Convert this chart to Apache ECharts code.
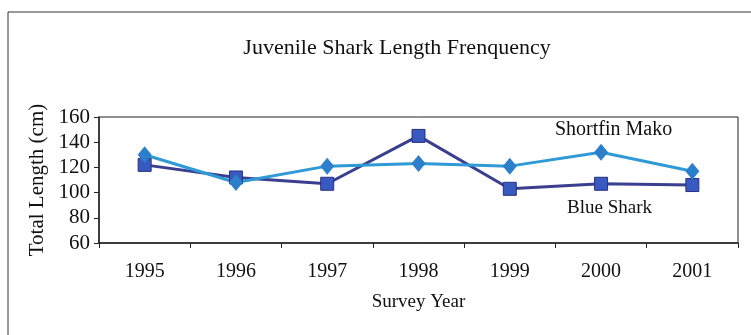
<!DOCTYPE html>
<html><head><meta charset="utf-8">
<script src="https://cdn.jsdelivr.net/npm/echarts@6/dist/echarts.min.js"></script>
<style>html,body{margin:0;padding:0;background:#fff}#c{width:751px;height:335px}</style>
</head><body><div id="c"></div>
<script>
const years = ['1995','1996','1997','1998','1999','2000','2001'];
const blueShark = [122, 112, 107, 145, 103, 107, 106];
const shortfinMako = [130, 108, 121, 123, 121, 132, 117];
const yTicks = [60, 80, 100, 120, 140, 160];

const chart = echarts.init(document.getElementById('c'));
const serif = '"Liberation Serif", "DejaVu Serif", serif';
chart.setOption({
  backgroundColor: '#fff',
  animation: false,
  title: {
    text: 'Juvenile Shark Length Frenquency',
    left: 392, top: 32, textAlign: 'center',
    textStyle: {fontFamily: serif, fontSize: 22, fontWeight: 'normal', color: '#111'}
  },
  grid: {left: 99, right: 13, top: 117, bottom: 92, show: true, borderColor: '#222', borderWidth: 1},
  xAxis: {
    type: 'category', data: years, boundaryGap: true,
    name: 'Survey Year', nameLocation: 'middle', nameGap: 50,
    nameTextStyle: {fontFamily: serif, fontSize: 19, color: '#111'},
    axisLine: {lineStyle: {color: '#222', width: 1.5}},
    axisTick: {show: true, length: 5, lineStyle: {color: '#222'}},
    axisLabel: {fontFamily: serif, fontSize: 20, color: '#111', margin: 19}
  },
  yAxis: {
    type: 'value', min: yTicks[0], max: yTicks[yTicks.length - 1], interval: 20,
    name: 'Total Length (cm)', nameLocation: 'middle', nameGap: 49, nameRotate: 90,
    nameTextStyle: {fontFamily: serif, fontSize: 21, color: '#111'},
    axisLine: {show: true, lineStyle: {color: '#222', width: 1.5}},
    axisTick: {show: true, length: 5, lineStyle: {color: '#222'}},
    splitLine: {show: false},
    axisLabel: {fontFamily: serif, fontSize: 21, color: '#111', margin: 9}
  },
  series: [
    {
      name: 'Blue Shark', type: 'line', data: blueShark,
      symbol: 'rect', symbolSize: 13,
      lineStyle: {color: '#3b3f8f', width: 3},
      itemStyle: {color: '#3759c0', borderColor: '#2a3080', borderWidth: 1}
    },
    {
      name: 'Shortfin Mako', type: 'line', data: shortfinMako,
      symbol: 'diamond', symbolSize: [14, 17],
      lineStyle: {color: '#2f9ad6', width: 3},
      itemStyle: {color: '#2b7fcb', borderColor: '#2b7fcb', borderWidth: 0}
    }
  ],
  graphic: [
    {type: 'rect', shape: {x: 8, y: 12, width: 800, height: 400},
     style: {fill: 'none', stroke: '#333', lineWidth: 1}, silent: true, z: -1},
    {type: 'text', left: 555, top: 120,
     style: {text: 'Shortfin Mako', font: '20px ' + serif, fill: '#111'}},
    {type: 'text', left: 567, top: 199,
     style: {text: 'Blue Shark', font: '19px ' + serif, fill: '#111'}}
  ]
});
</script></body></html>
